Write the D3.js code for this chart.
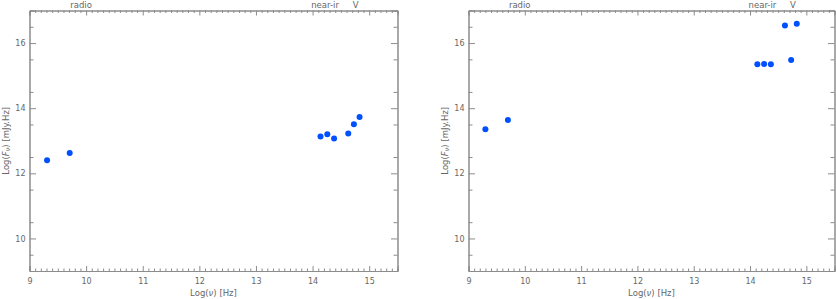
<!DOCTYPE html>
<html>
<head>
<meta charset="utf-8">
<script src="https://cdn.jsdelivr.net/npm/d3@7"></script>
<style>
body{margin:0;background:#fff;}
svg{display:block;}
.ax path{stroke:#8c8c8c;stroke-width:1;}
.ax line{stroke:#8c8c8c;stroke-width:1;}
.ax text{fill:#666;font-family:"DejaVu Sans",sans-serif;font-size:8px;}
.lbl{fill:#666;font-family:"DejaVu Sans",sans-serif;font-size:8.5px;}
</style>
</head>
<body>
<div class="chart"></div>
<script>
// log(nu) [Hz] and log(nu F_nu) [mJy.Hz] for the two sources
var logNu1=[9.31,9.71,14.14,14.26,14.38,14.63,14.73,14.83];
var logF1=[12.40,12.62,13.13,13.20,13.07,13.22,13.51,13.73];
var logNu2=[9.30,9.70,14.13,14.25,14.37,14.62,14.73,14.83];
var logF2=[13.35,13.64,15.35,15.36,15.35,16.54,15.48,16.59];

var bandNames=["radio","near-ir","V"];
var bandPos=[9.91,14.22,14.76];

var xTicks=[9,10,11,12,13,14,15];
var yTicks=[10,12,14,16];

var width=836;
var height=299;
var svg=d3.select('div.chart')
		.append('svg')
		.attr('width',width)
		.attr('height',height);

function panel(left,right,xs,ys){
	var top=10.5,bottom=271;
	var x=d3.scaleLinear().domain([9,15.5]).range([left,right]);
	var y=d3.scaleLinear().domain([9,17]).range([bottom,top]);
	var xMinor=d3.range(90,156).map(d=>d/10).filter(d=>d%1!=0);
	var yMinor=d3.range(9,17.01,0.5).filter(d=>d%1!=0);
	var g=svg.append('g');

	// bottom
	g.append('g').attr('class','ax')
		.attr('transform','translate(0,'+bottom+')')
		.call(d3.axisBottom(x).tickValues(xTicks).tickSize(-5).tickPadding(7).tickFormat(d3.format('d')));
	g.append('g').attr('class','ax')
		.attr('transform','translate(0,'+bottom+')')
		.call(d3.axisBottom(x).tickValues(xMinor).tickSize(-2.5).tickFormat(''));
	// top
	g.append('g').attr('class','ax')
		.attr('transform','translate(0,'+top+')')
		.call(d3.axisTop(x).tickValues(xTicks).tickSize(-5).tickFormat(''));
	g.append('g').attr('class','ax')
		.attr('transform','translate(0,'+top+')')
		.call(d3.axisTop(x).tickValues(xMinor).tickSize(-2.5).tickFormat(''));
	// left
	g.append('g').attr('class','ax')
		.attr('transform','translate('+left+',0)')
		.call(d3.axisLeft(y).tickValues(yTicks).tickSize(-6.5).tickPadding(4).tickFormat(d3.format('d')));
	g.append('g').attr('class','ax')
		.attr('transform','translate('+left+',0)')
		.call(d3.axisLeft(y).tickValues(yMinor).tickSize(-4).tickFormat(''));
	// right
	g.append('g').attr('class','ax')
		.attr('transform','translate('+right+',0)')
		.call(d3.axisRight(y).tickValues(yTicks).tickSize(-6.5).tickFormat(''));
	g.append('g').attr('class','ax')
		.attr('transform','translate('+right+',0)')
		.call(d3.axisRight(y).tickValues(yMinor).tickSize(-4).tickFormat(''));

	// band names above the frame
	g.selectAll('text.band')
		.data(bandNames)
		.enter()
		.append('text')
		.attr('class','lbl band')
		.attr('x',(d,i)=>x(bandPos[i]))
		.attr('y',7.5)
		.attr('text-anchor','middle')
		.text(d=>d);

	// axis titles
	var xt=g.append('text')
		.attr('class','lbl')
		.attr('x',(left+right)/2)
		.attr('y',296)
		.attr('text-anchor','middle');
	xt.append('tspan').text('Log(');
	xt.append('tspan').attr('font-style','italic').text('ν');
	xt.append('tspan').text(')  [Hz]');

	var yt=g.append('text')
		.attr('class','lbl')
		.attr('transform','translate('+(left-21)+','+((top+bottom)/2)+') rotate(-90)')
		.attr('text-anchor','middle');
	yt.append('tspan').text('Log(');
	yt.append('tspan').attr('font-style','italic').text('F');
	yt.append('tspan').attr('font-style','italic').attr('font-size','6.5px').attr('dy',1.5).text('ν');
	yt.append('tspan').attr('dy',-1.5).text(')  [mJy.Hz]');

	g.selectAll('circle')
		.data(xs)
		.enter()
		.append('circle')
		.attr('fill','#0050ff')
		.attr('cx',d=>x(d))
		.attr('cy',(d,i)=>y(ys[i]))
		.attr('r',3);
}

panel(29.5,397.5,logNu1,logF1);
panel(468.5,834.5,logNu2,logF2);
</script>
</body>
</html>
